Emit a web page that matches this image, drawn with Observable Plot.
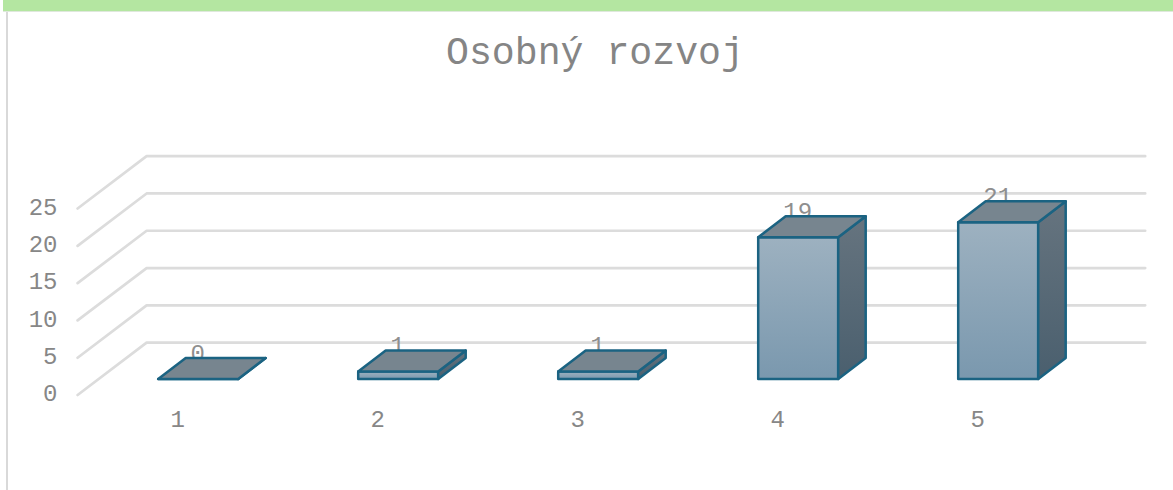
<!DOCTYPE html>
<html>
<head>
<meta charset="utf-8">
<script src="https://cdn.jsdelivr.net/npm/d3@7"></script>
<script src="https://cdn.jsdelivr.net/npm/@observablehq/plot@0.6"></script>
<style>
html,body{margin:0;padding:0;background:#fff;width:1173px;height:490px;overflow:hidden}
#band{position:absolute;left:3px;top:0;right:0;height:11px;background:#b4e6a1;border-bottom:1px solid #dfe8dc}
#edge{position:absolute;left:6px;top:12px;bottom:0;width:2px;background:#d9d9d9}
#title{position:absolute;left:0;top:31px;width:1190px;text-align:center;font:38.2px/46px "Liberation Mono",monospace;color:#858585}
#chart{position:absolute;left:0;top:0}
</style>
</head>
<body>
<div id="chart"></div>
<div id="band"></div>
<div id="edge"></div>
<div id="title">Osobný rozvoj</div>
<script>
const titleText = "Osobný rozvoj";
const categories = [1, 2, 3, 4, 5];
const values = [0, 1, 1, 19, 21];
const yTicks = [0, 5, 10, 15, 20, 25];

// 3D projection, in data units
const halfWidth = 0.2, depthX = 0.1375, depthY = 2.815;
const wallFrontX = 0.397, wallBackX = 0.742, wallEndX = 5.735;
const wallFrontY = -2.15, wallBackY = 4.87;

const gridRows = yTicks.flatMap(t => [
  {t, x: wallFrontX, y: t + wallFrontY},
  {t, x: wallBackX, y: t + wallBackY},
  {t, x: wallEndX, y: t + wallBackY}
]);
const poly = (id, pts) => [...pts, pts[0]].map(([x, y]) => ({id, x, y}));
const bars = categories.map((c, i) => ({c, v: values[i]}));
const frontRows = bars.flatMap(({c, v}) => poly(c, [[c - halfWidth, 0], [c + halfWidth, 0], [c + halfWidth, v], [c - halfWidth, v]]));
const sideRows = bars.flatMap(({c, v}) => poly(c, [[c + halfWidth, 0], [c + halfWidth + depthX, depthY], [c + halfWidth + depthX, v + depthY], [c + halfWidth, v]]));
const topRows = bars.flatMap(({c, v}) => poly(c, [[c - halfWidth, v], [c + halfWidth, v], [c + halfWidth + depthX, v + depthY], [c - halfWidth + depthX, v + depthY]]));

const defs = () => {
  const svgNS = "http://www.w3.org/2000/svg";
  const d = document.createElementNS(svgNS, "defs");
  d.innerHTML = `
    <linearGradient id="front" x1="0" y1="0" x2="0" y2="1"><stop offset="0" stop-color="#9db1c0"/><stop offset="1" stop-color="#7a98ae"/></linearGradient>
    <linearGradient id="side" x1="0" y1="0" x2="0" y2="1"><stop offset="0" stop-color="#66747f"/><stop offset="1" stop-color="#4a5f6e"/></linearGradient>`;
  return d;
};
const barStroke = "#1b6382";
const ink = "#878787";

const plot = Plot.plot({
  width: 1173,
  height: 490,
  marginLeft: 0, marginRight: 0, marginTop: 0, marginBottom: 81,
  style: {fontFamily: "'Liberation Mono', monospace", fontSize: "24px", background: "transparent", overflow: "visible"},
  x: {domain: [1, 5], range: [197.7, 997.7]},
  y: {domain: [0, 25], range: [378.5, 192]},
  marks: [
    defs,
    Plot.line(gridRows, {x: "x", y: "y", z: "t", stroke: "#dcdcdc", strokeWidth: 2.7}),
    Plot.axisY({ticks: yTicks, tickSize: 0, tickPadding: -57, dy: 14.5, label: null, fill: ink, fontSize: 24, textAnchor: "end"}),
    Plot.axisX({ticks: categories, tickFormat: d => String(d), tickSize: 0, tickPadding: 0, dx: -20.5, label: null, fill: ink, fontSize: 24}),
    Plot.text(bars, {x: "c", y: "v", text: d => String(d.v), dy: -26, dx: -0.5, fill: "#8f8f8f", fontSize: 24}),
    Plot.line(frontRows, {x: "x", y: "y", z: "id", fill: "url(#front)", stroke: barStroke, strokeWidth: 2.5}),
    Plot.line(sideRows, {x: "x", y: "y", z: "id", fill: "url(#side)", stroke: barStroke, strokeWidth: 2.5}),
    Plot.line(topRows, {x: "x", y: "y", z: "id", fill: "#77858f", stroke: barStroke, strokeWidth: 2.5})
  ]
});
document.getElementById("chart").append(plot);
</script>
</body>
</html>
